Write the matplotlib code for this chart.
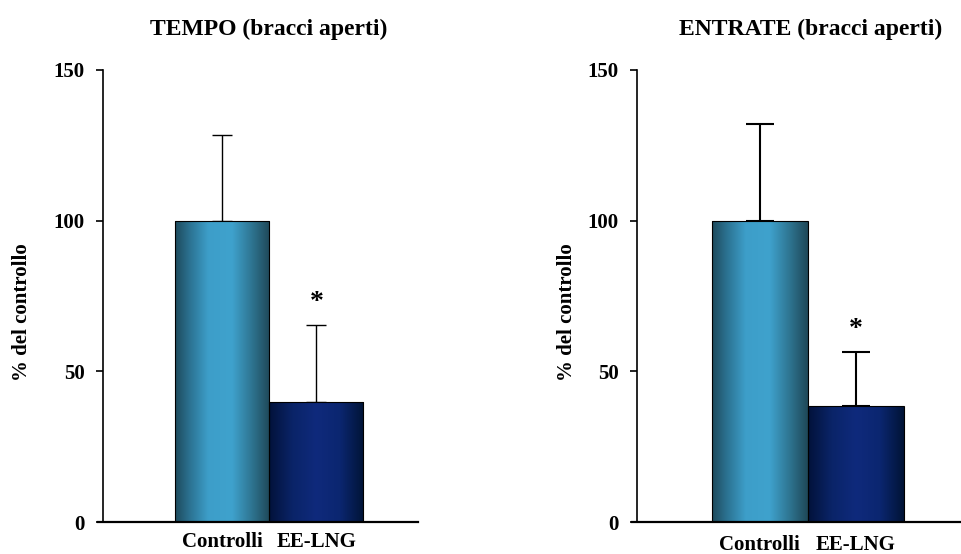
import numpy as np
import matplotlib
matplotlib.use("Agg")
import matplotlib.pyplot as plt
from matplotlib.colors import LinearSegmentedColormap

# data (% of control)
groups = ["Controlli", "EE-LNG"]
tempo_mean = [100, 39.8]
tempo_err = [28.5, 25.5]
entrate_mean = [100, 38.5]
entrate_err = [32, 18]
signif = ["", "*"]

titles = ["TEMPO (bracci aperti)", "ENTRATE (bracci aperti)"]

plt.rcParams['font.family'] = ['Liberation Serif', 'DejaVu Serif']
plt.rcParams['font.weight'] = 'bold'

# horizontal gradients: dark edges, light middle
cm_ctrl = LinearSegmentedColormap.from_list("ctrl", [
    (0.0, "#1d4a5c"), (0.15, "#2b7190"), (0.35, "#3d9ec9"),
    (0.6, "#3fa2cd"), (0.8, "#2f7794"), (1.0, "#1f4858")])
cm_ee = LinearSegmentedColormap.from_list("ee", [
    (0.0, "#02123a"), (0.25, "#0a2468"), (0.5, "#0f2a7c"),
    (0.75, "#0b2670"), (1.0, "#011436")])
cmaps = [cm_ctrl, cm_ee]

fig = plt.figure(figsize=(9.61, 5.54), dpi=100)
W, H = 961, 554
bottom = 1 - 522 / H
height = (522 - 70) / H
ax1 = fig.add_axes([103 / W, bottom, 315 / W, height])
ax2 = fig.add_axes([637 / W, bottom, 330 / W, height])

panels = [
    (ax1, tempo_mean, tempo_err, (-1.27, 2.08), 7, 1.0, 269, 7, -0.225),
    (ax2, entrate_mean, entrate_err, (-1.28, 2.16), 10, 1.5, 811, 9, -0.182),
]

x = np.arange(len(groups))
grad = np.linspace(0, 1, 256).reshape(1, -1)

for i, (ax, means, errs, xl, cap, elw, tx, xpad, ylx) in enumerate(panels):
    bars = ax.bar(x, means, width=1.0, facecolor="none", edgecolor="black",
                  linewidth=0.8, zorder=3)
    for b, cmap in zip(bars, cmaps):
        bx, bw, bh = b.get_x(), b.get_width(), b.get_height()
        im = ax.imshow(grad, extent=[bx, bx + bw, 0, bh], aspect="auto",
                       cmap=cmap, zorder=2, interpolation="bicubic")
        im.set_clip_path(b)
    ax.errorbar(x, means, yerr=[np.zeros(len(errs)), errs], fmt="none",
                ecolor="black", elinewidth=elw, capsize=cap, capthick=elw,
                zorder=1)
    for xi, m, e, s in zip(x, means, errs, signif):
        if s:
            ax.text(xi, m + e + 7.5, s, ha="center", va="center",
                    fontsize=20, fontweight="bold")
    ax.set_xlim(*xl)
    ax.set_ylim(0, 150)
    ax.set_yticks([0, 50, 100, 150])
    ax.set_xticks(x)
    ax.set_xticklabels(groups, fontsize=15, fontweight="bold")
    ax.tick_params(axis="x", length=0, pad=xpad)
    ax.tick_params(axis="y", direction="out", length=5, width=1.2,
                   labelsize=15, pad=8)
    for t in ax.get_yticklabels():
        t.set_fontweight("bold")
    ax.spines["top"].set_visible(False)
    ax.spines["right"].set_visible(False)
    ax.spines["left"].set_linewidth(1.2)
    ax.spines["bottom"].set_linewidth(1.6)
    ax.spines["bottom"].set_bounds(xl[0] - 0.05, xl[1])
    ax.set_ylabel("% del controllo", fontsize=15, fontweight="bold")
    ax.yaxis.set_label_coords(ylx, 0.465)
    fig.text(tx / W, 1 - 29 / H, titles[i], ha="center", va="center",
             fontsize=17, fontweight="bold")

fig.savefig("out.png", dpi=100)
